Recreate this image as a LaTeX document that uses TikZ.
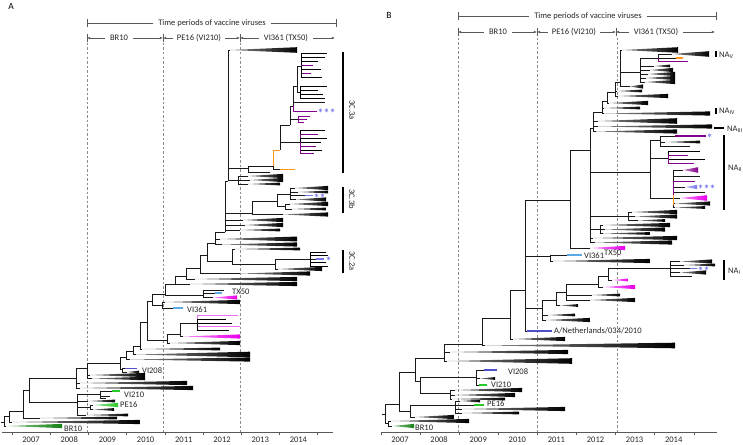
\documentclass[tikz,border=0pt]{standalone}
\usepackage{fontspec}
\setmainfont{Carlito}
\usetikzlibrary{arrows.meta}

\tikzset{
  branch/.style={line width=0.55pt, black!90},
  tipln/.style={line width=1.1pt},
  period/.style={black!65, line width=0.6pt},
  guide/.style={black!45, dash pattern=on 2.5pt off 2pt, line width=0.5pt},
  cladebar/.style={line width=1.8pt},
  lab/.style={inner sep=1pt, text=black!85},
  stars/.style={inner sep=0.5pt, text=starc, font=\fontsize{12}{12}\selectfont\bfseries},
}
% collapsed clade: apex x, y, end x, height
\newcommand{\wdg}[5][black]{\shade[left color=#1!45!white, right color=#1] (#2,#3) -- (#4,{#3-0.7*#5}) -- (#4,{#3+0.7*#5}) -- cycle;}
% leaves from one node: dy/end x/colour
\newcommand{\leafs}[3]{\foreach \dy/\xe/\cl in {#3} {\draw[branch, \cl] (#1,#2) |- (\xe,{#2+\dy});}}

\begin{document}
\begin{tikzpicture}[x=1pt, y=-1pt, >={Latex[length=3.2pt,width=2.6pt]}, font=\fontsize{8.5}{10}\selectfont]

  \definecolor{gDark}{RGB}{20,130,20}     % BR10
  \definecolor{gBright}{RGB}{40,200,40}   % PE16, VI210
  \definecolor{blue208}{RGB}{80,80,200}   % VI208
  \definecolor{lblue}{RGB}{90,170,230}    % VI361
  \definecolor{magentac}{RGB}{235,0,235}  % TX50
  \definecolor{pinkc}{RGB}{240,110,240}
  \definecolor{purplec}{RGB}{130,0,140}
  \definecolor{orangec}{RGB}{255,150,20}
  \definecolor{starc}{RGB}{120,120,235}

\useasboundingbox (0,0) rectangle (743,444);

% ================= panel A =================
\node (labA) at (11,6) {\fontsize{9.5}{10}\selectfont A};

% time periods
\draw[period] (87,19) -- (87,27) (336,19) -- (336,27) (87,23) -- (336,23);
\node[lab, fill=white, inner xsep=5pt] (topA) at (212,23) {Time periods of vaccine viruses};
\foreach \x in {87,163,240} \draw[period] (\x,34) -- (\x,42);
\draw[period, <->] (87,38) -- (163,38);
\draw[period, <->] (163,38) -- (240,38);
\draw[period, <->] (240,38) -- (335,38);
\node[lab, fill=white, inner xsep=5pt] (perA1) at (119,38) {BR10};
\node[lab, fill=white, inner xsep=4pt] (perA2) at (199,38) {PE16 (VI210)};
\node[lab, fill=white, inner xsep=5pt] (perA3) at (286,38) {VI361 (TX50)};

% guides and axis
\foreach \x in {87,163,240} \draw[guide] (\x,43) -- (\x,432);
\draw[period] (2,432) -- (333,432);
\foreach \i in {0,...,8} \draw[period] ({12+38.2*\i},432) -- ({12+38.2*\i},434.5);
\foreach \yr [count=\i from 0] in {2007,...,2014} \node[lab] at ({31+38.2*\i},440) {\yr};

% tree A: nodes
\coordinate (A0) at (4,422);
\coordinate (A1) at (9,416);
\coordinate (A2) at (23,411);
\coordinate (A3) at (29,390);
\coordinate (A4) at (76,378);
\coordinate (G1) at (77,402);
\coordinate (V2) at (100,394);
\coordinate (P1) at (90,407);
\coordinate (A5) at (87,368);
\coordinate (A6) at (120,363);
\coordinate (V8) at (122,369);
\coordinate (A7) at (126,357);
\coordinate (A8) at (133,351);
\coordinate (A9) at (140,346);
\coordinate (B0) at (147,322);
\coordinate (L1) at (167,340);
\coordinate (L2) at (180,334);
\coordinate (L3) at (197,323);
\coordinate (B1) at (152,301);
\coordinate (VV) at (162,305);
\coordinate (B2) at (165,294);
\coordinate (T1) at (203,295);
\coordinate (B3) at (175,284);
\coordinate (B4) at (186,276);
\coordinate (B5) at (200,268);
\coordinate (B6) at (207,255);
\coordinate (S2) at (232,261);
\coordinate (S2b) at (275,264);
\coordinate (S2c) at (310,259);
\coordinate (B7) at (215,243);
\coordinate (B8) at (225,232);
\coordinate (B9) at (225,213);
\coordinate (R3b) at (252,213);
\coordinate (R3c) at (277,201);
\coordinate (R3d) at (290,194);
\coordinate (R3e) at (285,206);
\coordinate (B10) at (228,181);
\coordinate (W10) at (238,180);
\coordinate (B11) at (228,168);
\coordinate (S3) at (248,168);
\coordinate (O1) at (273,166);
\coordinate (O2) at (280,150);
\coordinate (Qb) at (300,142);
\coordinate (Q1) at (290,125);
\coordinate (Qc) at (298,119);
\coordinate (Q2) at (293,106);
\coordinate (Q3) at (297,86);
\coordinate (C1) at (301,66);
\coordinate (C2) at (300,92);

% basal part
\draw[branch] (1,422) -- (A0) |- (A1) (A0) |- (6,426);
\wdg[gDark]{6}{426}{62}{3}
\node[lab, anchor=west] (br10A) at (63,429) {BR10};
\draw[branch] (A1) |- (A2) (A1) |- (12,422);
\wdg{12}{422}{140}{3}
\draw[branch] (A2) |- (A3) (A2) |- (40,418);
\wdg{40}{418}{117}{2}
\draw[branch] (A3) |- (A4) (A3) |- (G1);
\draw[branch] (G1) |- (V2) (G1) |- (P1) (G1) |- (88,401) (G1) |- (86,415);
\wdg{88}{401}{115}{2} \wdg{86}{415}{128}{2}
\draw[branch] (V2) |- (112,391) (V2) |- (110,396) (V2) |- (106,398);
\draw[tipln, gBright] (112,391) -- (120,391);
\node[lab, anchor=west] (vi210A) at (123,395) {VI210};
\draw[branch] (P1) |- (93,405) (P1) |- (93,409.5);
\wdg[gBright]{93}{405}{118}{3} \wdg{93}{409.5}{114}{2}
\node[lab, anchor=west] (pe16A) at (119,405) {PE16};
\draw[branch] (A4) |- (A5) (A4) |- (80,383) (A4) |- (80,388);
\wdg{80}{383}{187}{3} \wdg{80}{388}{193}{3}
\draw[branch] (A5) |- (A6) (A5) |- (90,375) (A5) |- (92,378.5);
\wdg{90}{375}{145}{3} \wdg{92}{378.5}{145}{2.5}
\draw[branch] (A6) |- (V8) (A6) |- (A7);
\draw[branch] (V8) |- (125,368.5) (V8) |- (127,372);
\draw[tipln, blue208] (125,368.5) -- (137,368.5);
\wdg{127}{372}{139}{2}
\node[lab, anchor=west] (vi208A) at (141,371) {VI208};

% ladder up to the recent clades
\draw[branch] (A7) |- (A8) (A7) |- (130,359.5);
\wdg{130}{359.5}{250}{3}
\draw[branch] (A8) |- (A9) (A8) |- (136,354.5);
\wdg{136}{354.5}{250}{4}
\draw[branch] (A9) |- (B0) (A9) |- (142,349);
\wdg{142}{349}{220}{2}
\draw[branch] (B0) |- (L1) (B0) |- (B1);
\draw[branch] (L1) |- (L2) (L1) |- (170,343);
\wdg{170}{343}{240}{3}
\draw[branch] (L2) |- (L3) (L2) |- (183,336.5);
\wdg[magentac]{183}{336.5}{240}{3}
\leafs{197}{323}{-8/238/pinkc, -4/226/black, 0/232/black, 3/240/pinkc, 7/229/black}
\draw[branch] (B1) |- (VV) (B1) |- (B2);
\draw[branch] (VV) |- (165,302) (VV) |- (173,308);
\wdg{165}{302}{240}{3}
\draw[tipln, lblue] (173,308) -- (183,308);
\node[lab, anchor=west] (vi361A) at (186,310) {VI361};
\draw[branch] (B2) |- (T1) (B2) |- (B3);
\draw[branch] (T1) |- (213,297.5) (T1) |- (215,293) (T1) |- (224,290);
\wdg[magentac]{213}{297.5}{237}{3}
\draw[tipln, lblue] (215,293) -- (222,293);
\node[lab, anchor=west] (tx50A) at (231,292) {TX50};
\draw[branch] (B3) |- (B4) (B3) |- (190,284);
\wdg{190}{284}{297}{3}
\draw[branch] (B4) |- (B5) (B4) |- (195,279);
\wdg{195}{279}{297}{3}
\draw[branch] (B5) |- (B6) (B5) |- (240,273.5);
\wdg{240}{273.5}{310}{3}
\draw[branch] (B6) |- (S2) (B6) |- (B7);

% 3C.2a
\draw[branch] (S2) |- (235,249) (S2) |- (S2b);
\wdg{235}{249}{300}{2}
\draw[branch] (S2b) |- (S2c) (S2b) |- (278,269);
\wdg{278}{269}{322}{3}
\leafs{310}{259}{-7/326/black, -3.5/328/black, 3.5/326/black, 7/328/black}
\draw[branch] (S2c) -- (316,259);
\draw[tipln, starc] (316,259) -- (324,259);
\node[stars, anchor=west] (st2a) at (325,261.5) {*};

\draw[branch] (B7) |- (B8) (B7) |- (220,239) (B7) |- (222,244.5);
\wdg{220}{239}{297}{3.5} \wdg{222}{244.5}{297}{3}
\draw[branch] (B8) |- (B9) (B8) |- (243,220) (B8) |- (245,225) (B8) |- (240,230);
\wdg{243}{220}{283}{3} \wdg{245}{225}{283}{3} \wdg{240}{230}{280}{2}
\draw[branch] (B9) |- (R3b) (B9) |- (B10);

% 3C.3b
\draw[branch] (R3b) |- (R3c) (R3b) |- (283,214.5);
\wdg{283}{214.5}{328}{3}
\draw[branch] (R3c) |- (R3d) (R3c) |- (R3e);
\draw[branch] (R3d) |- (295,188) (R3d) |- (298,192) (R3d) |- (305,195.5) (R3d) |- (296,199.5);
\wdg{295}{188}{328}{3} \wdg{298}{192}{328}{2} \wdg{296}{199.5}{326}{3}
\draw[tipln, starc] (305,195.5) -- (313,195.5);
\node[stars, anchor=west] (st3b) at (313,198) {**};
\draw[branch] (R3e) |- (290,204) (R3e) |- (292,209);
\wdg{290}{204}{328}{3} \wdg{292}{209}{326}{2}

\draw[branch] (B10) |- (W10) (B10) |- (B11);
\draw[branch] (W10) |- (248,176) (W10) |- (250,180) (W10) |- (248,184);
\wdg{248}{176}{283}{3} \wdg{250}{180}{283}{3} \wdg{248}{184}{280}{2}
\draw[branch] (B11) |- (230,50) (B11) |- (S3);
\wdg{230}{50}{297}{4}

% 3C.3a
\draw[branch] (S3) |- (O1) (S3) |- (270,172);
\draw[branch, orangec, line width=0.8pt] (O1) |- (O2);
\draw[branch] (O1) |- (280,169.5);
\draw[tipln, orangec] (280,169.5) -- (295,169.5);
\draw[branch] (O2) |- (Qb) (O2) |- (Q1);
\leafs{300}{142}{-12/325/black, -8/318/purplec, -4/327/black, 0/321/black, 4/316/purplec, 8/322/black, 11/314/purplec}
\draw[branch] (Q1) |- (Qc) (Q1) |- (Q2);
\leafs{298}{119}{-3/310/purplec, 0/307/purplec, 3/304/purplec}
\draw[branch] (Q2) |- (Q3) (Q2) |- (325,102);
\draw[branch, purplec] (Q2) |- (317,111);
\node[stars, anchor=west] (st3a) at (317,113.5) {***};
\draw[branch] (Q3) |- (C1) (Q3) |- (C2);
\leafs{300}{92}{-6/327/black, -2/318/black, 2/323/black, 6/325/black}
\leafs{301}{66}{-13/327/black, -9/325/black, -5/318/black, -1/313/purplec, 3/321/black, 7/311/purplec, 11/322/black}

% clade bars A
\draw[cladebar] (343,52) -- (343,173);
\draw[cladebar] (343,187) -- (343,213);
\draw[cladebar] (343,250) -- (343,273);
\node[lab, rotate=-90] (c3a) at (352,110) {3C.3a};
\node[lab, rotate=-90] (c3b) at (352,199) {3C.3b};
\node[lab, rotate=-90] (c2a) at (352,261) {3C.2a};

% ================= panel B =================
\node (labB) at (389,15) {\fontsize{9.5}{10}\selectfont B};

\draw[period] (458,12) -- (458,20) (716,12) -- (716,20) (458,16) -- (716,16);
\node[lab, fill=white, inner xsep=5pt] (topB) at (588,16) {Time periods of vaccine viruses};
\foreach \x in {458,537,616} \draw[period] (\x,28) -- (\x,36);
\draw[period, <->] (458,32) -- (537,32);
\draw[period, <->] (537,32) -- (616,32);
\draw[period, <->] (616,32) -- (715,32);
\node[lab, fill=white, inner xsep=5pt] (perB1) at (498,32) {BR10};
\node[lab, fill=white, inner xsep=4pt] (perB2) at (574,32) {PE16 (VI210)};
\node[lab, fill=white, inner xsep=5pt] (perB3) at (656,32) {VI361 (TX50)};

\foreach \x in {458,537,617} \draw[guide] (\x,38) -- (\x,432);
\draw[period] (382,432) -- (717,432);
\foreach \i in {0,...,8} \draw[period] ({381+39.1*\i},432) -- ({381+39.1*\i},434.5);
\foreach \yr [count=\i from 0] in {2007,...,2014} \node[lab] at ({400+39.1*\i},440) {\yr};

% tree B: nodes
\coordinate (R0) at (385,414);
\coordinate (Rb) at (388,423);
\coordinate (R1) at (399,404);
\coordinate (R3) at (410,411);
\coordinate (R4) at (455,405);
\coordinate (R2) at (415,372);
\coordinate (R6) at (420,381);
\coordinate (R7) at (476,377);
\coordinate (R8) at (450,393);
\coordinate (R5) at (444,358);
\coordinate (R9) at (482,344);
\coordinate (R10) at (510,318);
\coordinate (R11) at (525,290);
\coordinate (NL) at (527,331);
\coordinate (Cm) at (542,308);
\coordinate (Cm1) at (556,300);
\coordinate (Cm2) at (566,292);
\coordinate (Cm3) at (598,284);
\coordinate (Cm4) at (608,276);
\coordinate (K1r) at (670,268);
\coordinate (VB) at (550,256);
\coordinate (N0) at (570,200);
\coordinate (N2) at (590,150);
\coordinate (W1) at (600,229);
\coordinate (W2) at (628,216);
\coordinate (K0) at (650,172);
\coordinate (K1) at (660,140);
\coordinate (K3) at (668,158);
\coordinate (K2) at (673,198);
\coordinate (U1) at (593,128);
\coordinate (U2) at (602,112);
\coordinate (U3) at (607,101);
\coordinate (U4) at (615,92);
\coordinate (U5) at (620,82);
\coordinate (M1) at (640,72);
\coordinate (M2) at (658,58);

% basal part
\draw[branch] (382,414) -- (R0) |- (R1) (R0) |- (Rb);
\draw[branch] (Rb) |- (392,426) (Rb) |- (391,421);
\wdg[gDark]{392}{426}{414}{3}
\wdg{391}{421}{469}{3}
\node[lab, anchor=west] (br10B) at (414,428) {BR10};
\draw[branch] (R1) |- (R2) (R1) |- (R3);
\draw[branch] (R3) |- (R4) (R3) |- (415,417);
\wdg{415}{417}{454}{3}
\draw[branch] (R4) |- (460,401) (R4) |- (474,405) (R4) |- (462,409) (R4) |- (462,413);
\wdg{460}{401}{480}{2} \wdg{462}{409}{565}{3} \wdg{462}{413}{519}{2}
\draw[tipln, gBright] (474,405) -- (484,405);
\node[lab, anchor=west] (pe16B) at (486,404) {PE16};
\draw[branch] (R2) |- (R5) (R2) |- (R6);
\draw[branch] (R6) |- (R7) (R6) |- (R8);
\draw[branch] (R7) |- (484,370) (R7) |- (480,378.5) (R7) |- (479,385);
\draw[tipln, blue208] (484,370) -- (497,370);
\wdg{480}{378.5}{495}{2}
\draw[tipln, gBright] (479,385) -- (487,385);
\node[lab, anchor=west] (vi208B) at (507,372) {VI208};
\node[lab, anchor=west] (vi210B) at (490,385) {VI210};
\draw[branch] (R8) |- (455,390) (R8) |- (455,395) (R8) |- (452,399);
\wdg{455}{390}{522}{3} \wdg{455}{395}{515}{3} \wdg{452}{399}{505}{2}
\draw[branch] (R5) |- (R9) (R5) |- (450,352) (R5) |- (447,361);
\wdg{450}{352}{568}{3} \wdg{447}{361}{572}{4}
\draw[branch] (R9) |- (R10) (R9) |- (485,345.5);
\wdg{485}{345.5}{675}{4}
\draw[branch] (R10) |- (R11) (R10) |- (513,339);
\wdg{513}{339}{565}{3}
\draw[branch] (R11) |- (N0) (R11) |- (VB) (R11) |- (Cm) (R11) |- (NL);
\draw[tipln, blue208] (NL) -- (552,331);
\node[lab, anchor=west] (nethB) at (553,331) {A/Netherlands/034/2010};

% comb with NA_I
\draw[branch] (Cm) |- (Cm1) (Cm) |- (546,320) (Cm) |- (548,315);
\wdg{546}{320}{590}{3} \wdg{548}{315}{575}{2}
\draw[branch] (Cm1) |- (Cm2) (Cm1) |- (560,305.5);
\wdg{560}{305.5}{578}{2}
\draw[branch] (Cm2) |- (Cm3) (Cm2) |- (590,300) (Cm2) |- (592,295);
\wdg{590}{300}{635}{3} \wdg{592}{295}{620}{2}
\draw[branch] (Cm3) |- (Cm4) (Cm3) |- (603,287);
\wdg[magentac]{603}{287}{635}{3}
\draw[branch] (Cm4) |- (612,280) (Cm4) |- (K1r);
\wdg[magentac]{612}{280}{628}{2}
\draw[branch] (K1r) |- (680,261.5) (K1r) |- (684,265) (K1r) |- (690,268.5) (K1r) |- (680,272.5) (K1r) |- (692,276.5);
\wdg{680}{261.5}{712}{3} \wdg{684}{265}{715}{2} \wdg{680}{272.5}{706}{3}
\draw[tipln, starc] (690,268.5) -- (697,268.5);
\node[stars, anchor=west] (stNA1) at (697,271) {**};

% VI361 and TX50
\draw[branch] (VB) |- (567,255) (VB) |- (553,261);
\draw[tipln, lblue] (567,255) -- (582,255);
\wdg{553}{261}{650}{3}
\node[lab, anchor=west] (vi361B) at (583,256) {VI361};
\draw[branch] (N0) |- (N2) (N0) |- (590,248);
\wdg[magentac]{590}{248}{625}{3}
\node[lab, anchor=west] (tx50B) at (603,253) {TX50};

% upper part
\draw[branch] (N2) |- (593,238) (N2) |- (595,242.5) (N2) |- (W1) (N2) |- (W2) (N2) |- (K0) (N2) |- (U1);
\wdg{593}{238}{677}{3} \wdg{595}{242.5}{672}{3}
\draw[branch] (W1) |- (603,225) (W1) |- (605,229.5) (W1) |- (603,233.5);
\wdg{603}{225}{670}{3} \wdg{605}{229.5}{665}{3} \wdg{603}{233.5}{650}{2}
\draw[branch] (W2) |- (632,212) (W2) |- (635,216.5) (W2) |- (638,220.5);
\wdg{632}{212}{677}{3} \wdg{635}{216.5}{677}{3} \wdg{638}{220.5}{665}{2}

% NA_II
\draw[branch] (K0) |- (K1) (K0) |- (K3) (K0) |- (K2);
\draw[branch] (K1) |- (675,136) (K1) |- (665,142) (K1) |- (690,146);
\draw[tipln, purplec] (675,136) -- (706,136);
\node[stars, anchor=west] (stNA3) at (706,138.5) {*};
\wdg{665}{142}{700}{2}
\leafs{668}{158}{-7/700/black, -3/688/purplec, 1/705/black, 5/694/purplec}
\draw[branch] (K2) |- (683,170) (K2) |- (700,176) (K2) |- (685,187) (K2) |- (705,192) (K2) |- (680,198) (K2) |- (675,203.5) (K2) |- (675,207.5);
\draw[branch, purplec] (K2) |- (695,181);
\wdg[purplec]{683}{170}{698}{4}
\wdg[starc]{685}{187}{697}{3}
\node[stars, anchor=west] (stNA2) at (697,189.5) {***};
\wdg[magentac]{680}{198}{707}{4}
\wdg{675}{203.5}{710}{3} \wdg{675}{207.5}{705}{2}
\draw[orangec, line width=1pt] (673,195) -- (673,205);

% top ladder
\draw[branch] (U1) |- (U2) (U1) |- (596,131.5) (U1) |- (598,126.5) (U1) |- (598,121);
\wdg{596}{131.5}{677}{3} \wdg{598}{126.5}{712}{3} \wdg{598}{121}{677}{4}
\draw[branch] (U2) |- (U3) (U2) |- (604,108) (U2) |- (604,113.5);
\wdg{604}{108}{640}{2} \wdg{604}{113.5}{710}{3}
\draw[branch] (U3) |- (U4) (U3) |- (609,103);
\wdg{609}{103}{648}{3}
\draw[branch] (U4) |- (U5) (U4) |- (617,91) (U4) |- (618,96);
\wdg{617}{91}{642}{2} \wdg{618}{96}{668}{3}
\draw[branch] (U5) |- (622,50) (U5) |- (M1) (U5) |- (630,86.5);
\wdg{622}{50}{678}{4}
\wdg{630}{86.5}{643}{3}
\draw[branch] (M1) |- (M2) (M1) |- (654,66) (M1) |- (650,70) (M1) |- (648,74) (M1) |- (646,78) (M1) |- (645,82);
\wdg{654}{66}{670}{2} \wdg{650}{70}{673}{3} \wdg{648}{74}{675}{3} \wdg{646}{78}{675}{3} \wdg{645}{82}{675}{3}
\draw[branch] (M2) |- (672,54) (M2) |- (676,58);
\wdg{672}{54}{709}{4}
\draw[tipln, orangec] (676,58) -- (683,58);
\draw[branch, purplec] (M2) |- (688,61.5);

% clade bars B
\draw[cladebar] (716,51) -- (716,57);
\node[lab, anchor=west] (naV) at (718,55) {NA\textsubscript{V}};
\draw[cladebar] (716,108) -- (716,114);
\node[lab, anchor=west] (naIV) at (718,111) {NA\textsubscript{IV}};
\draw[cladebar] (714,128) -- (724,128);
\node[lab, anchor=west] (naIII) at (726,129) {NA\textsubscript{III}};
\draw[cladebar] (724,135) -- (724,210);
\node[lab, anchor=west] (naII) at (727,168) {NA\textsubscript{II}};
\draw[cladebar] (724,260) -- (724,280);
\node[lab, anchor=west] (naI) at (727,271) {NA\textsubscript{I}};

\end{tikzpicture}
\end{document}
